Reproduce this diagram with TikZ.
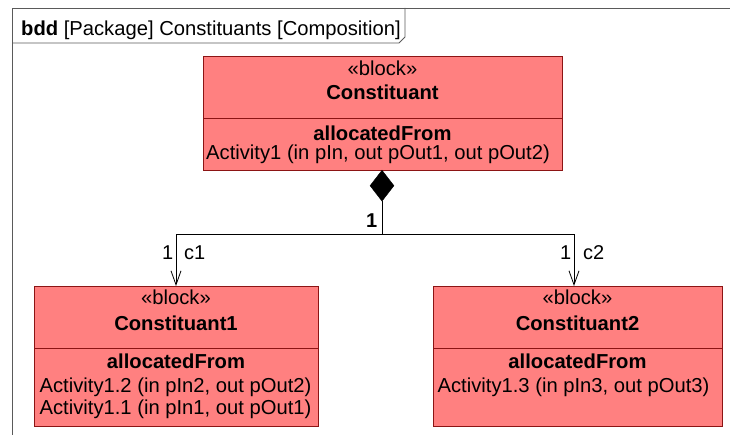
\documentclass[tikz,border=0pt]{standalone}
\usepackage{fontspec}
\setmainfont{Liberation Sans}
\usetikzlibrary{arrows.meta,shapes.geometric}
\definecolor{blockfill}{RGB}{255,128,128}
\definecolor{blockline}{RGB}{140,20,20}
\definecolor{frameline}{RGB}{90,90,90}
\begin{document}
\begin{tikzpicture}[x=1pt,y=-1pt,
  blockbox/.style={draw=blockline,fill=blockfill,line width=0.8pt,rectangle,inner sep=0pt,anchor=north west},
  txt/.style={font=\fontsize{20.2}{22}\selectfont,inner sep=0pt,anchor=base},
  btxt/.style={txt,font=\fontsize{20.2}{22}\selectfont\bfseries},
  lbl/.style={font=\fontsize{20}{22}\selectfont,inner sep=0pt,anchor=base west},
  conn/.style={draw=black,line width=0.8pt}
]
\useasboundingbox (0,0) rectangle (730,435);
% frame
\draw[frameline,line width=0.8pt] (12,435) -- (12,8) -- (730,8);
\draw[frameline,line width=0.8pt] (12,43) -- (399,43) -- (405,37) -- (405,8);
\node[lbl,font=\fontsize{20.2}{22}\selectfont,anchor=base west] (title) at (21,36) {\textbf{bdd} [Package] Constituants [Composition]};
% top block
\node[blockbox,minimum width=359pt,minimum height=114pt] (top) at (203,56) {};
\draw[blockline,line width=0.8pt] (203,118) -- (562,118);
\node[txt] (t1) at (382.5,76) {«block»};
\node[btxt] (t2) at (382.5,100) {Constituant};
\node[btxt] (t3) at (382.5,141) {allocatedFrom};
\node[txt] (t4) at (378,160) {Activity1 (in pIn, out pOut1, out pOut2)};
% child 1
\node[blockbox,minimum width=284pt,minimum height=140pt] (c1b) at (34,286) {};
\draw[blockline,line width=0.8pt] (34,348) -- (318,348);
\node[txt] at (176,305) {«block»};
\node[btxt] at (176,330) {Constituant1};
\node[btxt] at (176,368) {allocatedFrom};
\node[txt] at (175.5,392) {Activity1.2 (in pIn2, out pOut2)};
\node[txt] at (175.5,414) {Activity1.1 (in pIn1, out pOut1)};
% child 2
\node[blockbox,minimum width=289pt,minimum height=140pt] (c2b) at (433,286) {};
\draw[blockline,line width=0.8pt] (433,348) -- (722,348);
\node[txt] at (577.5,305) {«block»};
\node[btxt] at (577.5,330) {Constituant2};
\node[btxt] at (577.5,368) {allocatedFrom};
\node[txt] at (573.5,392) {Activity1.3 (in pIn3, out pOut3)};
% connectors
\node[diamond,fill=black,draw=black,inner sep=0pt,minimum width=24pt,minimum height=31pt,anchor=north] (dia) at (382,170) {};
\coordinate (j) at (382,234);
\coordinate (jl) at (176,234);
\coordinate (jr) at (574,234);
\coordinate (e1) at (176,286);
\coordinate (e2) at (574,286);
\draw[conn] (dia.south) -- (j);
\draw[conn,-{Straight Barb[length=14pt,width=10pt,line width=0.8pt]}] (j) -- (jl) -- (e1);
\draw[conn,-{Straight Barb[length=14pt,width=10pt,line width=0.8pt]}] (j) -- (jr) -- (e2);
\node[lbl,font=\fontsize{20}{22}\selectfont\bfseries] (m0) at (366,228) {1};
\node[lbl] (m1) at (162,260) {1};
\node[lbl] (r1) at (184,260) {c1};
\node[lbl] (m2) at (560,260) {1};
\node[lbl] (r2) at (583,260) {c2};
\end{tikzpicture}
\end{document}
